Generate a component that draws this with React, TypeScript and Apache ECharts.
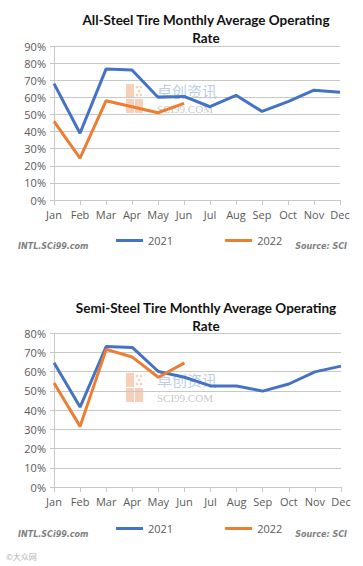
import React, { useEffect, useRef } from "react";
import * as echarts from "echarts";

const months = ["Jan", "Feb", "Mar", "Apr", "May", "Jun", "Jul", "Aug", "Sep", "Oct", "Nov", "Dec"];
const yTicks1 = [0, 10, 20, 30, 40, 50, 60, 70, 80, 90];
const yTicks2 = [0, 10, 20, 30, 40, 50, 60, 70, 80];
const allSteel2021 = [68, 39, 76.5, 76, 60, 60.5, 54.5, 61.2, 51.8, 57.5, 64.2, 63];
const allSteel2022 = [46, 24.5, 58, 54.5, 51, 56.5];
const semiSteel2021 = [64.5, 41.5, 73, 72.5, 60, 57, 52.5, 52.5, 49.8, 53.5, 59.8, 62.8];
const semiSteel2022 = [54, 31.5, 71.5, 67.5, 57, 64.5];
const seriesNames = ["2021", "2022"];
const titles = [
  "All-Steel Tire Monthly Average Operating\nRate",
  "Semi-Steel Tire Monthly Average Operating\nRate",
];

const BLUE = "#4472C4";
const ORANGE = "#ED7D31";
const LABEL = "#595959";
const GRID = "#c8c8c8";

function watermark(top: number) {
  const o = "rgba(240,150,100,0.45)";
  return [
    { type: "rect", shape: { x: 126, y: top, width: 8, height: 14 }, style: { fill: o } },
    { type: "rect", shape: { x: 126, y: top + 15, width: 8, height: 14 }, style: { fill: o } },
    { type: "rect", shape: { x: 135, y: top + 15, width: 8, height: 14 }, style: { fill: o } },
    { type: "circle", shape: { cx: 137, cy: top + 3, r: 1.3 }, style: { fill: o } },
    { type: "circle", shape: { cx: 141, cy: top + 3, r: 1.3 }, style: { fill: o } },
    { type: "circle", shape: { cx: 139, cy: top + 7, r: 1.3 }, style: { fill: o } },
    { type: "circle", shape: { cx: 137, cy: top + 11, r: 1.3 }, style: { fill: o } },
    { type: "circle", shape: { cx: 141, cy: top + 11, r: 1.3 }, style: { fill: o } },
    {
      type: "text",
      x: 157,
      y: top - 1,
      style: { text: "卓创资讯", fill: "rgba(140,170,215,0.6)", font: "15px 'Noto Sans CJK SC'", textVerticalAlign: "top" },
    },
    {
      type: "text",
      x: 157,
      y: top + 19,
      style: { text: "SCI99.COM", fill: "rgba(150,150,150,0.55)", font: "11px 'Liberation Serif'", textVerticalAlign: "top" },
    },
  ];
}

function footer(y: number) {
  return [
    {
      type: "text",
      x: 18,
      y,
      style: { text: "INTL.SCi99.com", fill: "#7f7f7f", font: "italic bold 8px 'DejaVu Sans'" },
    },
    {
      type: "text",
      x: 347,
      y,
      style: { text: "Source: SCI", fill: "#7f7f7f", font: "italic bold 8px 'DejaVu Sans'", textAlign: "right" },
    },
  ];
}

export default function App() {
  const ref = useRef<HTMLDivElement>(null);
  useEffect(() => {
    document.body.style.margin = "0";
    const chart = echarts.init(ref.current!, null, { renderer: "svg" });
    const yAxisBase = (max: number, gridIndex: number) => ({
      type: "value",
      gridIndex,
      min: 0,
      max,
      interval: 10,
      axisLine: { show: true, lineStyle: { color: GRID, width: 1 } },
      axisTick: { show: true, length: 4, lineStyle: { color: GRID } },
      splitLine: { show: true, lineStyle: { color: GRID, width: 1 } },
      axisLabel: { color: LABEL, fontSize: 11, fontFamily: "'Open Sans'", formatter: "{value}%", margin: 8 },
    });
    const xAxisBase = (gridIndex: number) => ({
      type: "category",
      gridIndex,
      data: months,
      boundaryGap: false,
      axisLine: { show: true, lineStyle: { color: GRID, width: 1 } },
      axisTick: { show: true, length: 5, alignWithLabel: true, lineStyle: { color: GRID } },
      axisLabel: { color: LABEL, fontSize: 11, fontFamily: "'Open Sans'", margin: 9, interval: 0 },
      splitLine: { show: false },
    });
    const line = (name: string, data: number[], color: string, idx: number) => ({
      type: "line",
      name,
      data,
      xAxisIndex: idx,
      yAxisIndex: idx,
      symbol: "none",
      lineStyle: { color, width: 3 },
      itemStyle: { color },
    });
    const legendBase = (top: number) => ({
      top,
      left: 111,
      data: seriesNames,
      icon: "rect",
      itemWidth: 27,
      itemHeight: 3,
      itemGap: 52,
      textStyle: { color: LABEL, fontSize: 11, fontFamily: "'Open Sans'" },
    });
    chart.setOption({
      animation: false,
      backgroundColor: "#ffffff",
      title: [
        {
          text: titles[0],
          left: 201,
          top: 6,
          textAlign: "center",
          textStyle: { fontSize: 13.5, fontWeight: "bold", color: "#111111", fontFamily: "Lato", lineHeight: 18 },
        },
        {
          text: titles[1],
          left: 201,
          top: 294,
          textAlign: "center",
          textStyle: { fontSize: 13.5, fontWeight: "bold", color: "#111111", fontFamily: "Lato", lineHeight: 18 },
        },
      ],
      legend: [legendBase(230), legendBase(518)],
      grid: [
        { left: 54, right: 23, top: 46, height: 154 },
        { left: 54, right: 22, top: 333, height: 154 },
      ],
      xAxis: [xAxisBase(0), xAxisBase(1)],
      yAxis: [yAxisBase(yTicks1[yTicks1.length - 1], 0), yAxisBase(yTicks2[yTicks2.length - 1], 1)],
      series: [
        line(seriesNames[0], allSteel2021, BLUE, 0),
        line(seriesNames[1], allSteel2022, ORANGE, 0),
        line(seriesNames[0], semiSteel2021, BLUE, 1),
        line(seriesNames[1], semiSteel2022, ORANGE, 1),
      ],
      graphic: [
        ...watermark(84),
        ...watermark(373),
        ...footer(242),
        ...footer(530),
        {
          type: "text",
          x: 6,
          y: 552,
          style: { text: "©大众网", fill: "#b0b0b0", font: "8px 'Noto Sans CJK SC'" },
        },
      ],
    });
    return () => chart.dispose();
  }, []);
  return <div ref={ref} style={{ position: "absolute", left: 0, top: 0, width: 363, height: 566 }} />;
}
